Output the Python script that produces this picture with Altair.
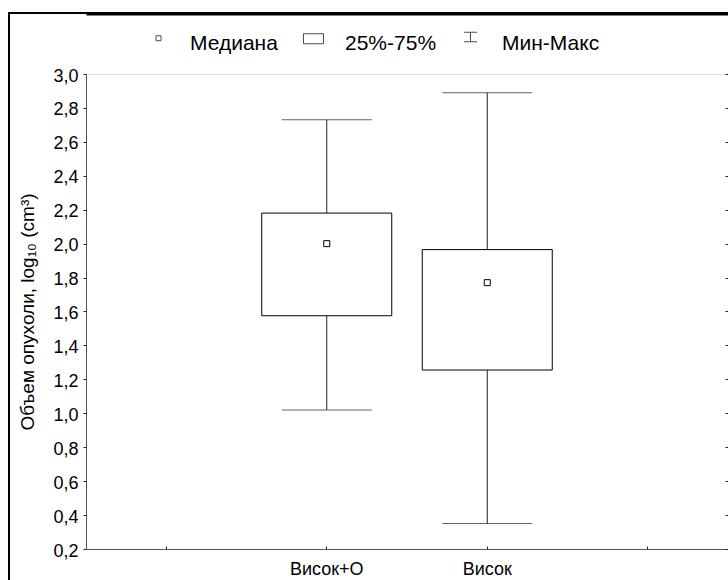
import altair as alt
import pandas as pd

# ---- data ----
categories = ["Висок+О", "Висок"]
mins = [1.02, 0.35]
q1s = [1.575, 1.255]
medians = [2.00, 1.77]
q3s = [2.18, 1.965]
maxs = [2.73, 2.89]

y_ticks = [0.2, 0.4, 0.6, 0.8, 1.0, 1.2, 1.4, 1.6, 1.8, 2.0, 2.2, 2.4, 2.6, 2.8, 3.0]
legend_labels = ["Медиана", "25%-75%", "Мин-Макс"]
legend_paths = [
    "M-0.25,-0.8H0.25V-0.3H-0.25Z",
    "M-1,-1H1V0H-1Z",
    "M-0.65,-1.15H0.65M0,-1.15V-0.2M-0.65,-0.2H0.65",
]

FONT = "Liberation Sans"

df = pd.DataFrame({
    "cat": categories, "min": mins, "q1": q1s,
    "med": medians, "q3": q3s, "max": maxs,
})

x_domain = ["_l"] + categories + ["_r"]
xscale = alt.Scale(domain=x_domain, paddingInner=0, paddingOuter=0)
yscale = alt.Scale(domain=[0.2, 3.0], nice=False, zero=False)

blank = "(datum.value == '_l' || datum.value == '_r') ? '' : datum.value"

x_bottom = alt.Axis(
    title=None, labelExpr=blank, labelAngle=0, labelFontSize=18, labelFont=FONT,
    labelColor="black", tickSize=alt.ExprRef(expr="-3"), tickColor="#222",
    labelPadding=14, domainColor="#555", grid=False,
)
y_left = alt.Axis(
    title="Объем опухоли, log₁₀ (cm³)", titleFont=FONT, titleFontSize=19,
    titleFontWeight="normal", titleColor="black", titlePadding=15,
    values=y_ticks, labelExpr="replace(format(datum.value, '.1f'), '.', ',')",
    labelFontSize=18, labelFont=FONT, labelColor="black", tickSize=3,
    tickColor="#222", labelPadding=5, labelOffset=2, domainColor="#555",
    grid=False,
)
# top axis used as the outer frame's top edge (offset up to the frame)
x_top = alt.Axis(orient="top", title=None, labels=False, ticks=False,
                 offset=60, domainColor="black", domainWidth=2, grid=False)
y_right = alt.Axis(orient="right", title=None, labels=False, values=y_ticks,
                   tickSize=alt.ExprRef(expr="-3"), tickColor="#222",
                   domainColor="#555", grid=False)

base = alt.Chart(df)

whisker = base.mark_rule(color="#222", strokeWidth=1).encode(
    x=alt.X("cat:N", scale=xscale, axis=x_bottom),
    y=alt.Y("min:Q", scale=yscale, axis=y_left),
    y2="max:Q",
)
cap_max = base.mark_tick(color="#222", size=90, thickness=1).encode(
    x=alt.X("cat:N", scale=xscale, axis=x_top),
    y=alt.Y("max:Q", scale=yscale, axis=y_right),
)
cap_min = base.mark_tick(color="#222", size=90, thickness=1).encode(
    x=alt.X("cat:N", scale=xscale, axis=None),
    y=alt.Y("min:Q", scale=yscale, axis=None),
)
box = base.mark_bar(size=130, fill="white", stroke="black", strokeWidth=1).encode(
    x=alt.X("cat:N", scale=xscale, axis=None),
    y=alt.Y("q1:Q", scale=yscale, axis=None),
    y2="q3:Q",
)
median = base.mark_point(shape="square", size=36, filled=True, fill="white",
                         stroke="black", strokeWidth=1, opacity=1).encode(
    x=alt.X("cat:N", scale=xscale, axis=None),
    y=alt.Y("med:Q", scale=yscale, axis=None),
)

legend_df = pd.DataFrame({"label": legend_labels})
legend_layer = alt.Chart(legend_df).transform_filter("false").mark_point(
    color="black", strokeWidth=1
).encode(
    shape=alt.Shape(
        "label:N",
        scale=alt.Scale(domain=legend_labels, range=legend_paths),
        legend=alt.Legend(
            title=None, orient="none", legendX=62, legendY=-41,
            direction="horizontal", columns=3, symbolSize=400,
            symbolStrokeColor="black", symbolFillColor="white",
            symbolStrokeWidth=1, labelFontSize=21, labelFont=FONT,
            labelColor="black", labelOffset=21, columnPadding=23, padding=0,
        ),
    )
)

# outer figure frame (decoration)
one = pd.DataFrame({"a": [0]})
frame_top = alt.Chart(one).mark_rect(color="black").encode(
    x=alt.value(-78), x2=alt.value(642), y=alt.value(-62), y2=alt.value(-60)
)
frame_left = alt.Chart(one).mark_rect(color="black").encode(
    x=alt.value(-78), x2=alt.value(-76), y=alt.value(-62), y2=alt.value(560)
)

chart = alt.layer(
    frame_top, frame_left, whisker, cap_max, cap_min, box, median, legend_layer
).resolve_axis(x="independent", y="independent").properties(
    width=642, height=475,
    autosize=alt.AutoSizeParams(type="none"),
    padding={"left": 86, "top": 74, "right": 0, "bottom": 31},
).configure_view(stroke="#555", strokeWidth=1).configure(background="white")

chart.save("out.html", embed_options={"renderer": "svg", "actions": False})
